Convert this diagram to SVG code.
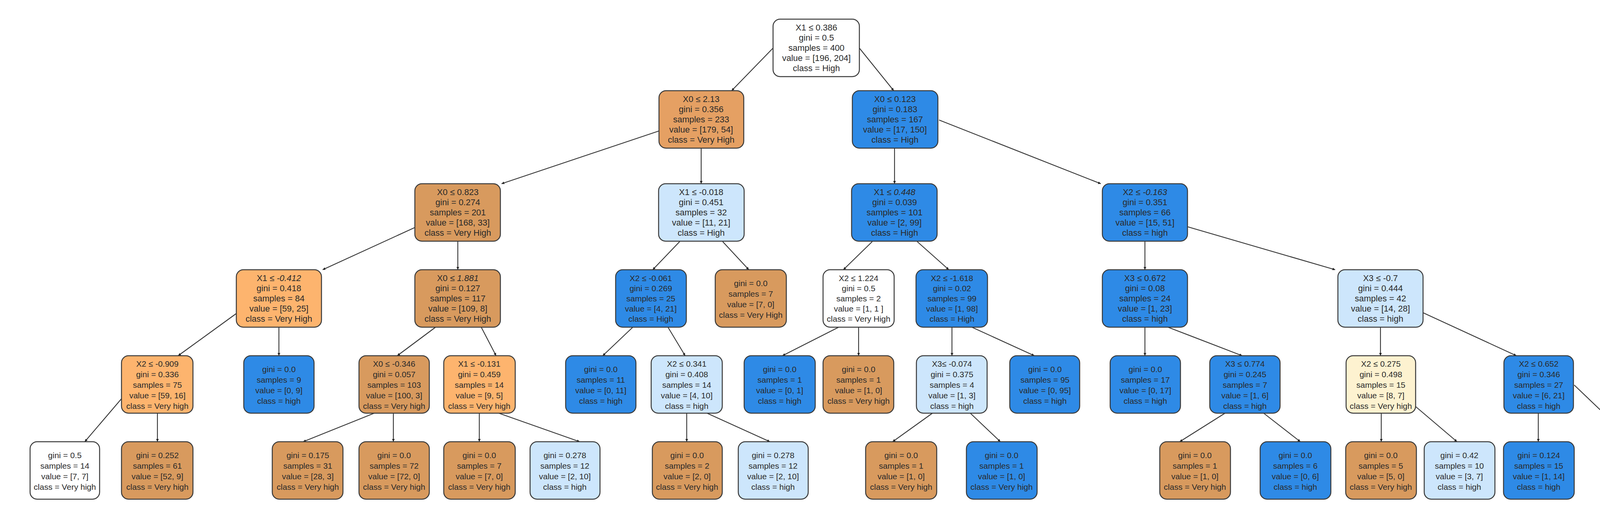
<svg xmlns="http://www.w3.org/2000/svg" width="4372" height="1320" viewBox="0 0 4372 1320">
<defs>
<marker id="ah" viewBox="0 0 10 10" refX="10" refY="5" markerWidth="7" markerHeight="7" orient="auto-start-reverse" markerUnits="userSpaceOnUse">
<path d="M0,0 L10,5 L0,10 z" fill="#222"/>
</marker>
<style>
rect{stroke:#3a3a3a;stroke-width:2.5}
.w{fill:#ffffff}.o1{fill:#e5a063}.o2{fill:#d89a5e}.o3{fill:#fdb46e}.b{fill:#2e8ae6}.lb{fill:#cde6fc}.cr{fill:#fdf2d0}
text{font-family:"Liberation Sans",Arial,sans-serif;font-size:21px;fill:#2a2a2a;text-anchor:middle}
.big text{font-size:22px}
.e line{stroke:#333;stroke-width:2.2;marker-end:url(#ah)}
</style>
</defs>
<rect x="0" y="0" width="4372" height="1320" style="fill:#fff;stroke:none"/>
<g class="e" id="connectors">
<line x1="1979" y1="123" x2="1873" y2="232"/>
<line x1="2200" y1="123" x2="2288" y2="232"/>
<line x1="1687" y1="335" x2="1284" y2="470"/>
<line x1="1795" y1="379" x2="1795" y2="470"/>
<line x1="2290" y1="379" x2="2290" y2="470"/>
<line x1="2404" y1="307" x2="2818" y2="470"/>
<line x1="1062" y1="582" x2="826" y2="690"/>
<line x1="1172" y1="618" x2="1172" y2="690"/>
<line x1="1740" y1="618" x2="1671" y2="690"/>
<line x1="1850" y1="618" x2="1917" y2="690"/>
<line x1="2233" y1="618" x2="2159" y2="690"/>
<line x1="2348" y1="618" x2="2429" y2="690"/>
<line x1="2931" y1="618" x2="2931" y2="690"/>
<line x1="3040" y1="580" x2="3418" y2="690"/>
<line x1="605" y1="802" x2="456" y2="910"/>
<line x1="714" y1="837" x2="714" y2="910"/>
<line x1="1115" y1="837" x2="1017" y2="910"/>
<line x1="1232" y1="837" x2="1270" y2="910"/>
<line x1="1620" y1="837" x2="1543" y2="910"/>
<line x1="1710" y1="837" x2="1754" y2="910"/>
<line x1="2147" y1="837" x2="2003" y2="910"/>
<line x1="2198" y1="837" x2="2198" y2="910"/>
<line x1="2437" y1="837" x2="2437" y2="910"/>
<line x1="2488" y1="837" x2="2648" y2="910"/>
<line x1="2931" y1="837" x2="2931" y2="910"/>
<line x1="2990" y1="837" x2="3180" y2="910"/>
<line x1="3534" y1="837" x2="3534" y2="910"/>
<line x1="3643" y1="800" x2="3882" y2="910"/>
<line x1="311" y1="1020" x2="217" y2="1130"/>
<line x1="403" y1="1057" x2="403" y2="1130"/>
<line x1="958" y1="1057" x2="776" y2="1130"/>
<line x1="1007" y1="1057" x2="1007" y2="1130"/>
<line x1="1227" y1="1057" x2="1227" y2="1130"/>
<line x1="1277" y1="1057" x2="1484" y2="1130"/>
<line x1="1758" y1="1057" x2="1758" y2="1130"/>
<line x1="1810" y1="1057" x2="1971" y2="1130"/>
<line x1="2387" y1="1057" x2="2285" y2="1130"/>
<line x1="2484" y1="1057" x2="2561" y2="1130"/>
<line x1="3136" y1="1057" x2="3020" y2="1130"/>
<line x1="3235" y1="1057" x2="3329" y2="1130"/>
<line x1="3536" y1="1057" x2="3536" y2="1130"/>
<line x1="3624" y1="1040" x2="3730" y2="1130"/>
<line x1="3938" y1="1057" x2="3938" y2="1130"/>
<line x1="4030" y1="985" x2="4182" y2="1130"/>
</g>
<g class="big">
<g id="n0"><rect class="w" x="1979" y="49" width="221" height="147" rx="18"/><text x="2090" y="78">X1 ≤ 0.386</text><text x="2090" y="104">gini = 0.5</text><text x="2090" y="130">samples = 400</text><text x="2090" y="156">value = [196, 204]</text><text x="2090" y="182">class = High</text></g>
<g id="n1"><rect class="o1" x="1687" y="232" width="217" height="147" rx="18"/><text x="1795" y="261">X0 ≤ 2.13</text><text x="1795" y="287">gini = 0.356</text><text x="1795" y="313">samples = 233</text><text x="1795" y="339">value = [179, 54]</text><text x="1795" y="365">class = Very High</text></g>
<g id="n2"><rect class="b" x="2182" y="232" width="219" height="147" rx="18"/><text x="2291" y="261">X0 ≤ 0.123</text><text x="2291" y="287">gini = 0.183</text><text x="2291" y="313">samples = 167</text><text x="2291" y="339">value = [17, 150]</text><text x="2291" y="365">class = High</text></g>
<g id="n3"><rect class="o2" x="1062" y="470" width="219" height="147" rx="18"/><text x="1172" y="499">X0 ≤ 0.823</text><text x="1172" y="525">gini = 0.274</text><text x="1172" y="551">samples = 201</text><text x="1172" y="577">value = [168, 33]</text><text x="1172" y="603">class = Very High</text></g>
<g id="n4"><rect class="lb" x="1686" y="470" width="219" height="147" rx="18"/><text x="1795" y="499">X1 ≤ -0.018</text><text x="1795" y="525">gini = 0.451</text><text x="1795" y="551">samples = 32</text><text x="1795" y="577">value = [11, 21]</text><text x="1795" y="603">class = High</text></g>
<g id="n5"><rect class="b" x="2180" y="470" width="219" height="147" rx="18"/><text x="2290" y="499">X1 ≤ <tspan font-style="italic">0.448</tspan></text><text x="2290" y="525">gini = 0.039</text><text x="2290" y="551">samples = 101</text><text x="2290" y="577">value = [2, 99]</text><text x="2290" y="603">class = High</text></g>
<g id="n6"><rect class="b" x="2822" y="470" width="218" height="147" rx="18"/><text x="2931" y="499">X2 ≤ <tspan font-style="italic">-0.163</tspan></text><text x="2931" y="525">gini = 0.351</text><text x="2931" y="551">samples = 66</text><text x="2931" y="577">value = [15, 51]</text><text x="2931" y="603">class = high</text></g>
<g id="n7"><rect class="o3" x="605" y="690" width="218" height="147" rx="18"/><text x="714" y="719">X1 ≤ <tspan font-style="italic">-0.412</tspan></text><text x="714" y="745">gini = 0.418</text><text x="714" y="771">samples = 84</text><text x="714" y="797">value = [59, 25]</text><text x="714" y="823">class = Very High</text></g>
<g id="n8"><rect class="o2" x="1062" y="690" width="219" height="147" rx="18"/><text x="1172" y="719">X0 ≤ <tspan font-style="italic">1.881</tspan></text><text x="1172" y="745">gini = 0.127</text><text x="1172" y="771">samples = 117</text><text x="1172" y="797">value = [109, 8]</text><text x="1172" y="823">class = Very High</text></g>
<g id="n13"><rect class="b" x="2822" y="690" width="218" height="147" rx="18"/><text x="2931" y="719">X3 ≤ 0.672</text><text x="2931" y="745">gini = 0.08</text><text x="2931" y="771">samples = 24</text><text x="2931" y="797">value = [1, 23]</text><text x="2931" y="823">class = high</text></g>
<g id="n14"><rect class="lb" x="3425" y="690" width="218" height="147" rx="18"/><text x="3534" y="719">X3 ≤ -0.7</text><text x="3534" y="745">gini = 0.444</text><text x="3534" y="771">samples = 42</text><text x="3534" y="797">value = [14, 28]</text><text x="3534" y="823">class = high</text></g>
</g>
<g id="n9"><rect class="b" x="1576" y="690" width="181" height="147" rx="18"/><text x="1666" y="719">X2 ≤ -0.061</text><text x="1666" y="745">gini = 0.269</text><text x="1666" y="771">samples = 25</text><text x="1666" y="797">value = [4, 21]</text><text x="1666" y="823">class = High</text></g>
<g id="n10"><rect class="o2" x="1831" y="690" width="182" height="147" rx="18"/><text x="1922" y="732">gini = 0.0</text><text x="1922" y="759">samples = 7</text><text x="1922" y="786">value = [7, 0]</text><text x="1922" y="813">class = Very High</text></g>
<g id="n11"><rect class="w" x="2107" y="690" width="182" height="147" rx="18"/><text x="2198" y="719">X2 ≤ 1.224</text><text x="2198" y="745">gini = 0.5</text><text x="2198" y="771">samples = 2</text><text x="2198" y="797">value = [1, 1 ]</text><text x="2198" y="823">class = Very High</text></g>
<g id="n12"><rect class="b" x="2345" y="690" width="183" height="147" rx="18"/><text x="2437" y="719">X2 ≤ -1.618</text><text x="2437" y="745">gini = 0.02</text><text x="2437" y="771">samples = 99</text><text x="2437" y="797">value = [1, 98]</text><text x="2437" y="823">class = High</text></g>
<g id="n15"><rect class="o3" x="311" y="910" width="183" height="147" rx="18"/><text x="403" y="938">X2 ≤ -0.909</text><text x="403" y="965">gini = 0.336</text><text x="403" y="992">samples = 75</text><text x="403" y="1019">value = [59, 16]</text><text x="403" y="1046">class = Very high</text></g>
<g id="n16"><rect class="b" x="624" y="910" width="180" height="147" rx="18"/><text x="714" y="952">gini = 0.0</text><text x="714" y="979">samples = 9</text><text x="714" y="1006">value = [0, 9]</text><text x="714" y="1033">class = high</text></g>
<g id="n17"><rect class="o2" x="919" y="910" width="180" height="147" rx="18"/><text x="1009" y="938">X0 ≤ -0.346</text><text x="1009" y="965">gini = 0.057</text><text x="1009" y="992">samples = 103</text><text x="1009" y="1019">value = [100, 3]</text><text x="1009" y="1046">class = Very high</text></g>
<g id="n18"><rect class="o3" x="1136" y="910" width="183" height="147" rx="18"/><text x="1227" y="938">X1 ≤ -0.131</text><text x="1227" y="965">gini = 0.459</text><text x="1227" y="992">samples = 14</text><text x="1227" y="1019">value = [9, 5]</text><text x="1227" y="1046">class = Very high</text></g>
<g id="n19"><rect class="b" x="1448" y="910" width="180" height="147" rx="18"/><text x="1538" y="952">gini = 0.0</text><text x="1538" y="979">samples = 11</text><text x="1538" y="1006">value = [0, 11]</text><text x="1538" y="1033">class = high</text></g>
<g id="n20"><rect class="lb" x="1667" y="910" width="182" height="147" rx="18"/><text x="1758" y="938">X2 ≤ 0.341</text><text x="1758" y="965">gini = 0.408</text><text x="1758" y="992">samples = 14</text><text x="1758" y="1019">value = [4, 10]</text><text x="1758" y="1046">class = high</text></g>
<g id="n21"><rect class="b" x="1905" y="910" width="182" height="147" rx="18"/><text x="1996" y="952">gini = 0.0</text><text x="1996" y="979">samples = 1</text><text x="1996" y="1006">value = [0, 1]</text><text x="1996" y="1033">class = high</text></g>
<g id="n22"><rect class="o2" x="2107" y="910" width="181" height="147" rx="18"/><text x="2198" y="952">gini = 0.0</text><text x="2198" y="979">samples = 1</text><text x="2198" y="1006">value = [1, 0]</text><text x="2198" y="1033">class = Very high</text></g>
<g id="n23"><rect class="lb" x="2346" y="910" width="181" height="147" rx="18"/><text x="2437" y="938">X3≤ -0.074</text><text x="2437" y="965">gini = 0.375</text><text x="2437" y="992">samples = 4</text><text x="2437" y="1019">value = [1, 3]</text><text x="2437" y="1046">class = high</text></g>
<g id="n24"><rect class="b" x="2585" y="910" width="179" height="147" rx="18"/><text x="2675" y="952">gini = 0.0</text><text x="2675" y="979">samples = 95</text><text x="2675" y="1006">value = [0, 95]</text><text x="2675" y="1033">class = high</text></g>
<g id="n25"><rect class="b" x="2842" y="910" width="180" height="147" rx="18"/><text x="2932" y="952">gini = 0.0</text><text x="2932" y="979">samples = 17</text><text x="2932" y="1006">value = [0, 17]</text><text x="2932" y="1033">class = high</text></g>
<g id="n26"><rect class="b" x="3097" y="910" width="180" height="147" rx="18"/><text x="3187" y="938">X3 ≤ 0.774</text><text x="3187" y="965">gini = 0.245</text><text x="3187" y="992">samples = 7</text><text x="3187" y="1019">value = [1, 6]</text><text x="3187" y="1046">class = high</text></g>
<g id="n27"><rect class="cr" x="3446" y="910" width="178" height="147" rx="18"/><text x="3535" y="938">X2 ≤ 0.275</text><text x="3535" y="965">gini = 0.498</text><text x="3535" y="992">samples = 15</text><text x="3535" y="1019">value = [8, 7]</text><text x="3535" y="1046">class = Very high</text></g>
<g id="n28"><rect class="b" x="3850" y="910" width="178" height="147" rx="18"/><text x="3939" y="938">X2 ≤ 0.652</text><text x="3939" y="965">gini = 0.346</text><text x="3939" y="992">samples = 27</text><text x="3939" y="1019">value = [6, 21]</text><text x="3939" y="1046">class = high</text></g>
<g id="n29"><rect class="w" x="77" y="1130" width="178" height="147" rx="18"/><text x="166" y="1172">gini = 0.5</text><text x="166" y="1199">samples = 14</text><text x="166" y="1226">value = [7, 7]</text><text x="166" y="1253">class = Very high</text></g>
<g id="n30"><rect class="o2" x="311" y="1130" width="183" height="147" rx="18"/><text x="403" y="1172">gini = 0.252</text><text x="403" y="1199">samples = 61</text><text x="403" y="1226">value = [52, 9]</text><text x="403" y="1253">class = Very high</text></g>
<g id="n31"><rect class="o2" x="697" y="1130" width="181" height="147" rx="18"/><text x="788" y="1172">gini = 0.175</text><text x="788" y="1199">samples = 31</text><text x="788" y="1226">value = [28, 3]</text><text x="788" y="1253">class = Very high</text></g>
<g id="n32"><rect class="o2" x="919" y="1130" width="180" height="147" rx="18"/><text x="1009" y="1172">gini = 0.0</text><text x="1009" y="1199">samples = 72</text><text x="1009" y="1226">value = [72, 0]</text><text x="1009" y="1253">class = Very high</text></g>
<g id="n33"><rect class="o2" x="1136" y="1130" width="183" height="147" rx="18"/><text x="1227" y="1172">gini = 0.0</text><text x="1227" y="1199">samples = 7</text><text x="1227" y="1226">value = [7, 0]</text><text x="1227" y="1253">class = Very high</text></g>
<g id="n34"><rect class="lb" x="1357" y="1130" width="179" height="147" rx="18"/><text x="1446" y="1172">gini = 0.278</text><text x="1446" y="1199">samples = 12</text><text x="1446" y="1226">value = [2, 10]</text><text x="1446" y="1253">class = high</text></g>
<g id="n35"><rect class="o2" x="1670" y="1130" width="179" height="147" rx="18"/><text x="1759" y="1172">gini = 0.0</text><text x="1759" y="1199">samples = 2</text><text x="1759" y="1226">value = [2, 0]</text><text x="1759" y="1253">class = Very high</text></g>
<g id="n36"><rect class="lb" x="1890" y="1130" width="179" height="147" rx="18"/><text x="1979" y="1172">gini = 0.278</text><text x="1979" y="1199">samples = 12</text><text x="1979" y="1226">value = [2, 10]</text><text x="1979" y="1253">class = high</text></g>
<g id="n37"><rect class="o2" x="2216" y="1130" width="182" height="147" rx="18"/><text x="2307" y="1172">gini = 0.0</text><text x="2307" y="1199">samples = 1</text><text x="2307" y="1226">value = [1, 0]</text><text x="2307" y="1253">class = Very high</text></g>
<g id="n38"><rect class="b" x="2474" y="1130" width="181" height="147" rx="18"/><text x="2564" y="1172">gini = 0.0</text><text x="2564" y="1199">samples = 1</text><text x="2564" y="1226">value = [1, 0]</text><text x="2564" y="1253">class = Very high</text></g>
<g id="n39"><rect class="o2" x="2969" y="1130" width="181" height="147" rx="18"/><text x="3059" y="1172">gini = 0.0</text><text x="3059" y="1199">samples = 1</text><text x="3059" y="1226">value = [1, 0]</text><text x="3059" y="1253">class = Very high</text></g>
<g id="n40"><rect class="b" x="3226" y="1130" width="181" height="147" rx="18"/><text x="3316" y="1172">gini = 0.0</text><text x="3316" y="1199">samples = 6</text><text x="3316" y="1226">value = [0, 6]</text><text x="3316" y="1253">class = high</text></g>
<g id="n41"><rect class="o2" x="3445" y="1130" width="181" height="147" rx="18"/><text x="3535" y="1172">gini = 0.0</text><text x="3535" y="1199">samples = 5</text><text x="3535" y="1226">value = [5, 0]</text><text x="3535" y="1253">class = Very high</text></g>
<g id="n42"><rect class="lb" x="3646" y="1130" width="181" height="147" rx="18"/><text x="3736" y="1172">gini = 0.42</text><text x="3736" y="1199">samples = 10</text><text x="3736" y="1226">value = [3, 7]</text><text x="3736" y="1253">class = high</text></g>
<g id="n43"><rect class="b" x="3849" y="1130" width="181" height="147" rx="18"/><text x="3939" y="1172">gini = 0.124</text><text x="3939" y="1199">samples = 15</text><text x="3939" y="1226">value = [1, 14]</text><text x="3939" y="1253">class = high</text></g>
<g id="n44"><rect class="lb" x="4140" y="1130" width="181" height="147" rx="18"/><text x="4230" y="1172">gini = 0.486</text><text x="4230" y="1199">samples = 12</text><text x="4230" y="1226">value = [5, 7]</text><text x="4230" y="1253">class = high</text></g>
</svg>
